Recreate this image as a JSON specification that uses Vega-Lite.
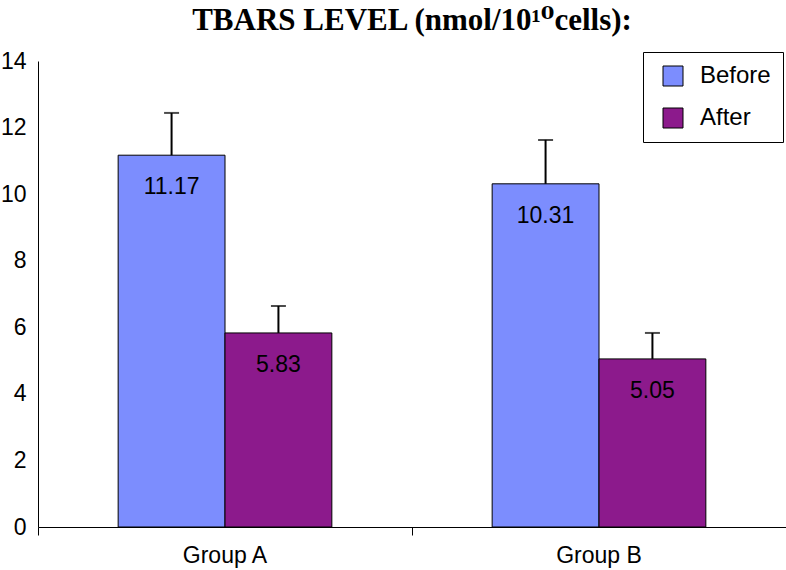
{
  "$schema": "https://vega.github.io/schema/vega-lite/v6.json",
  "width": 748,
  "height": 466,
  "autosize": {"type": "none"},
  "padding": {"left": 38, "top": 61, "right": 0, "bottom": 43},
  "background": "white",
  "title": {
    "text": "TBARS LEVEL (nmol/10¹⁰cells):",
    "font": "Liberation Serif, DejaVu Serif",
    "fontSize": 31,
    "fontWeight": "bold",
    "color": "black",
    "anchor": "middle",
    "offset": 13
  },
  "config": {"view": {"stroke": null}},
  "data": {
    "values": [
      {"group": "Group A", "time": "Before", "value": 11.17, "upper": 12.44},
      {"group": "Group A", "time": "After", "value": 5.83, "upper": 6.64},
      {"group": "Group B", "time": "Before", "value": 10.31, "upper": 11.63},
      {"group": "Group B", "time": "After", "value": 5.05, "upper": 5.83}
    ]
  },
  "encoding": {
    "x": {
      "field": "group",
      "type": "nominal",
      "scale": {"paddingInner": 0, "paddingOuter": 0},
      "axis": {
        "title": null,
        "labelAngle": 0,
        "bandPosition": 0,
        "ticks": true,
        "tickSize": 8,
        "tickColor": "black",
        "domainColor": "black",
        "labelColor": "black",
        "labelFont": "Liberation Sans",
        "labelFontSize": 23,
        "labelPadding": 9,
        "labelAlign": "center",
        "grid": false
      }
    },
    "xOffset": {
      "field": "time",
      "type": "nominal",
      "sort": ["Before", "After"],
      "scale": {"paddingInner": 0, "paddingOuter": 0.75}
    }
  },
  "layer": [
    {
      "mark": {"type": "bar", "stroke": "black", "strokeWidth": 1},
      "encoding": {
        "y": {
          "field": "value",
          "type": "quantitative",
          "scale": {"domain": [0, 14], "nice": false},
          "axis": {
            "title": null,
            "values": [0, 2, 4, 6, 8, 10, 12, 14],
            "grid": false,
            "ticks": false,
            "labelPadding": 12,
            "domainColor": "black",
            "labelColor": "black",
            "labelFont": "Liberation Sans",
            "labelFontSize": 23
          }
        },
        "color": {
          "field": "time",
          "type": "nominal",
          "sort": ["Before", "After"],
          "scale": {"domain": ["Before", "After"], "range": ["#7C8DFE", "#8C1A8C"]},
          "legend": {
            "title": null,
            "orient": "none",
            "legendX": 605,
            "legendY": -9,
            "strokeColor": "black",
            "fillColor": "white",
            "padding": 12,
            "symbolType": "square",
            "symbolSize": 400,
            "symbolStrokeColor": "black",
            "symbolStrokeWidth": 1,
            "symbolOffset": 6,
            "labelFont": "Liberation Sans",
            "labelFontSize": 24,
            "labelColor": "black",
            "labelOffset": 15,
            "rowPadding": 18
          }
        }
      }
    },
    {
      "mark": {"type": "rule", "color": "black", "strokeWidth": 2},
      "encoding": {
        "y": {"field": "value", "type": "quantitative"},
        "y2": {"field": "upper"}
      }
    },
    {
      "mark": {"type": "tick", "color": "black", "thickness": 2, "size": 15},
      "encoding": {
        "y": {"field": "upper", "type": "quantitative"}
      }
    },
    {
      "mark": {"type": "text", "dy": 32, "baseline": "middle", "align": "center", "font": "Liberation Sans", "fontSize": 23, "color": "black"},
      "encoding": {
        "y": {"field": "value", "type": "quantitative"},
        "text": {"field": "value", "type": "quantitative", "format": ".2f"}
      }
    }
  ]
}
